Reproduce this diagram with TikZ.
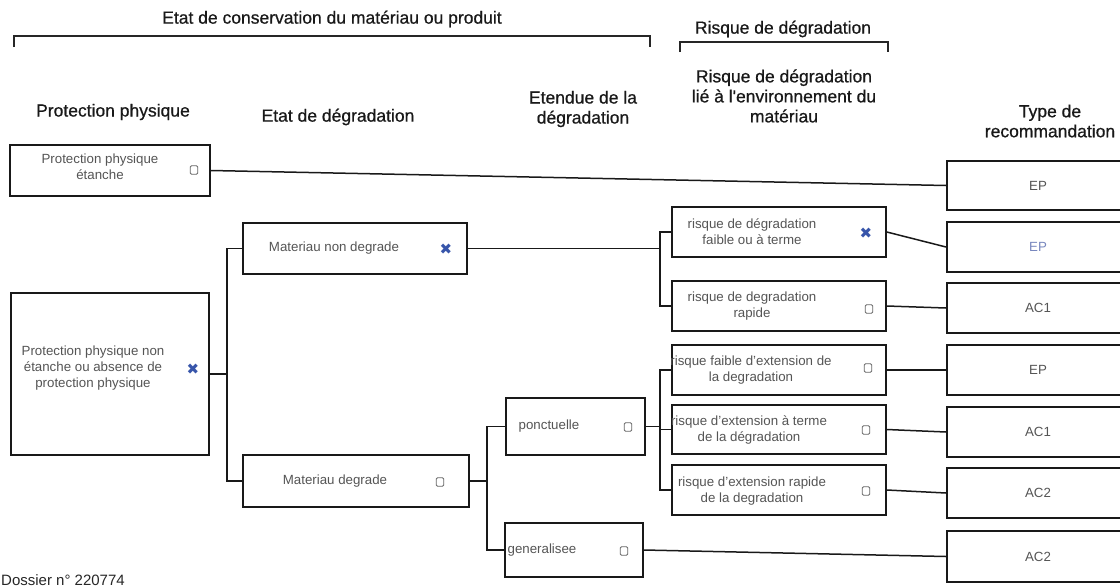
\documentclass[tikz,border=0pt]{standalone}
\usepackage{fontspec}
\setmainfont{Liberation Sans}
\newfontfamily\headfont[FakeBold=0.7]{Liberation Sans}
\newfontfamily\symfont{DejaVu Sans}
\definecolor{xblue}{RGB}{55,85,170}
\definecolor{boxtext}{RGB}{85,85,85}
\definecolor{eptext}{RGB}{120,135,190}
\begin{document}
\begin{tikzpicture}[x=1pt,y=-1pt,
  box/.style={draw=black!90, line width=1.6pt, fill=white, inner sep=0pt},
  btext/.style={text=boxtext, font=\fontsize{13.3}{16}\selectfont, align=center, inner sep=0pt},
  head/.style={text=black!90, font=\headfont\fontsize{17.5}{20}\selectfont, align=center, inner sep=0pt},
  cbox/.style={draw=black!60, line width=0.8pt, rounded corners=1.2pt, minimum width=7.5pt, minimum height=8.5pt, inner sep=0pt},
  xmark/.style={text=xblue, font=\symfont\fontsize{15}{15}\selectfont, inner sep=0pt},
  link/.style={draw=black!90, line width=1.5pt},
  brk/.style={draw=black!85, line width=1.4pt}
]
\useasboundingbox (0,0) rectangle (1120,587);
\clip (0,0) rectangle (1120,587);

% ---- headers ----
\node[head] (hcons) at (332,19) {Etat de conservation du matériau ou produit};
\draw[brk] (14,47) -- (14,36) -- (650,36) -- (650,47);
\node[head] (hrisk) at (783,29) {Risque de dégradation};
\draw[brk] (680,52) -- (680,42) -- (888,42) -- (888,52);

\node[head] (c1) at (113,112) {Protection physique};
\node[head] (c2) at (338,117) {Etat de dégradation};
\node[head] (c3) at (583,109) {Etendue de la\\dégradation};
\node[head] (c4) at (784,96) {Risque de dégradation\\lié à l'environnement du\\matériau};
\node[head] (c5) at (1050,121) {Type de\\recommandation};

% ---- column 1 ----
\node[box, minimum width=200pt, minimum height=51pt] (pp1) at (110,170.5) {};
\node[btext] (pp1t) at (100,167) {Protection physique\\étanche};
\node[cbox] (pp1c) at (194,170) {};

\node[box, minimum width=198pt, minimum height=162pt] (pp2) at (110,374) {};
\node[btext] (pp2t) at (93,368) {Protection physique non\\étanche ou absence de\\protection physique};
\node[xmark] (pp2x) at (193,369) {✖};

% ---- column 2 ----
\node[box, minimum width=224pt, minimum height=51pt] (mnd) at (355,248.5) {};
\node[btext] (mndt) at (334,248) {Materiau non degrade};
\node[xmark] (mndx) at (446,249) {✖};

\node[box, minimum width=226pt, minimum height=52pt] (md) at (356,481) {};
\node[btext] (mdt) at (335,481) {Materiau degrade};
\node[cbox] (mdc) at (440,482) {};

% ---- column 3 ----
\node[box, minimum width=139pt, minimum height=57pt] (pon) at (575.5,426.5) {};
\node[btext] (pont) at (549,426) {ponctuelle};
\node[cbox] (ponc) at (628,427) {};

\node[box, minimum width=138pt, minimum height=54pt] (gen) at (574,550) {};
\node[btext] (gent) at (542,550) {generalisee};
\node[cbox] (genc) at (624,551) {};

% ---- column 4 ----
\node[box, minimum width=214pt, minimum height=50pt] (r1) at (779,232) {};
\node[btext] (r1t) at (752,232) {risque de dégradation\\faible ou à terme};
\node[xmark] (r1x) at (866,233) {✖};

\node[box, minimum width=214pt, minimum height=50pt] (r2) at (779,306) {};
\node[btext] (r2t) at (752,306) {risque de degradation\\rapide};
\node[cbox] (r2c) at (869,309) {};

\node[box, minimum width=214pt, minimum height=50pt] (r3) at (779,370) {};
\node[btext] (r3t) at (751,370) {risque faible d'extension de\\la degradation};
\node[cbox] (r3c) at (868,368) {};

\node[box, minimum width=214pt, minimum height=49pt] (r4) at (779,429.5) {};
\node[btext] (r4t) at (749,430) {risque d'extension à terme\\de la dégradation};
\node[cbox] (r4c) at (866,430) {};

\node[box, minimum width=214pt, minimum height=50pt] (r5) at (779,490) {};
\node[btext] (r5t) at (752,491) {risque d'extension rapide\\de la degradation};
\node[cbox] (r5c) at (866,491) {};

% ---- column 5 ----
\node[box, minimum width=200pt, minimum height=49pt, anchor=west] (e1) at (946,185.5) {};
\node[btext] (e1t) at (1038,185.5) {EP};
\node[box, minimum width=200pt, minimum height=50pt, anchor=west] (e2) at (946,247) {};
\node[btext, text=eptext] (e2t) at (1038,247) {EP};
\node[box, minimum width=200pt, minimum height=50pt, anchor=west] (e3) at (946,308) {};
\node[btext] (e3t) at (1038,308) {AC1};
\node[box, minimum width=200pt, minimum height=50pt, anchor=west] (e4) at (946,370) {};
\node[btext] (e4t) at (1038,370) {EP};
\node[box, minimum width=200pt, minimum height=50pt, anchor=west] (e5) at (946,432) {};
\node[btext] (e5t) at (1038,432) {AC1};
\node[box, minimum width=200pt, minimum height=50pt, anchor=west] (e6) at (946,493) {};
\node[btext] (e6t) at (1038,493) {AC2};
\node[box, minimum width=200pt, minimum height=51pt, anchor=west] (e7) at (946,556.5) {};
\node[btext] (e7t) at (1038,556.5) {AC2};

% ---- junctions ----
\coordinate (j1) at (227,0);
\coordinate (j2) at (660,0);
\coordinate (j3) at (487,0);
\coordinate (j4) at (660,0);

% ---- connectors ----
\draw[link] (pp1.east) -- (e1.west);

\draw[link] (pp2.east) -- (pp2.east -| j1);
\draw[link] (mnd.west) -- (mnd.west -| j1) -- (md.west -| j1) -- (md.west);

\draw[link] (mnd.east) -- (mnd.east -| j2);
\draw[link] (r1.west) -- (r1.west -| j2) -- (r2.west -| j2) -- (r2.west);

\draw[link] (md.east) -- (md.east -| j3);
\draw[link] (pon.west) -- (pon.west -| j3) -- (gen.west -| j3) -- (gen.west);

\draw[link] (pon.east) -- (pon.east -| j4);
\draw[link] (r3.west) -- (r3.west -| j4) -- (r5.west -| j4) -- (r5.west);
\draw[link] (r4.west) -- (r4.west -| j4);

\draw[link] (gen.east) -- (e7.west);
\draw[link] (r1.east) -- (e2.west);
\draw[link] (r2.east) -- (e3.west);
\draw[link] (r3.east) -- (e4.west);
\draw[link] (r4.east) -- (e5.west);
\draw[link] (r5.east) -- (e6.west);

% ---- footer ----
\node[anchor=south west, inner sep=0pt, font=\fontsize{15}{18}\selectfont, text=black!85] (doss) at (1,586) {Dossier n° 220774};
\end{tikzpicture}
\end{document}
